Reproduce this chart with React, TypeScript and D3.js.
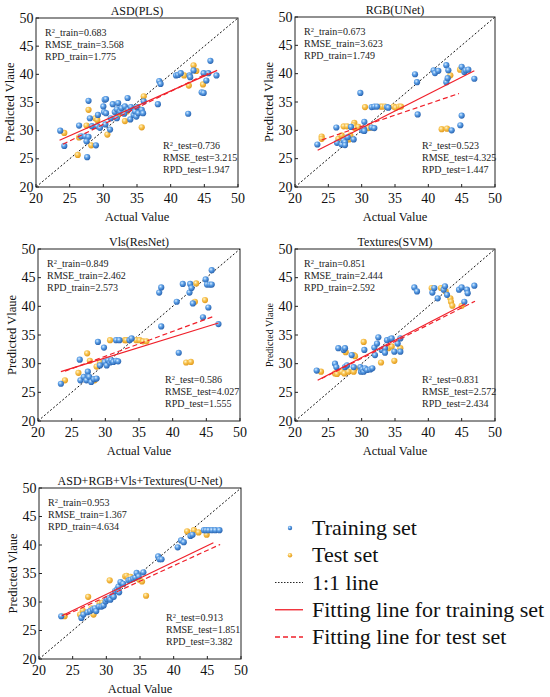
import * as d3 from 'd3';

// ---- data ----
const titles = ['ASD(PLS)', 'RGB(UNet)', 'Vls(ResNet)', 'Textures(SVM)', 'ASD+RGB+Vls+Textures(U-Net)'];
const trainR2 = ['0.683', '0.673', '0.849', '0.851', '0.953'];
const trainRMSE = ['3.568', '3.623', '2.462', '2.444', '1.367'];
const trainRPD = ['1.775', '1.749', '2.573', '2.592', '4.634'];
const testR2 = ['0.736', '0.523', '0.586', '0.831', '0.913'];
const testRMSE = ['3.215', '4.325', '4.027', '2.572', '1.851'];
const testRPD = ['1.947', '1.447', '1.555', '2.434', '3.382'];
const axisTicks = [20, 25, 30, 35, 40, 45, 50];

const asdTrain = [[23.6,30.0],[24.2,27.3],[26.4,30.9],[26.7,29.0],[27.3,29.0],[27.6,25.3],[27.8,35.3],[27.8,28.9],[28.0,32.2],[27.5,28.1],[28.3,30.8],[28.9,27.4],[29.2,32.8],[29.1,30.8],[29.5,30.5],[30.0,34.3],[30.2,35.5],[30.4,35.6],[30.1,33.3],[30.4,33.1],[30.3,31.1],[31.0,30.2],[31.1,32.2],[31.4,34.7],[31.7,33.3],[32.0,33.8],[32.0,32.2],[32.2,34.9],[32.5,33.4],[32.7,34.0],[33.1,33.0],[33.2,34.3],[33.6,35.8],[33.7,33.7],[34.0,32.0],[34.1,34.2],[34.5,32.8],[34.7,33.4],[34.9,32.5],[35.0,34.2],[35.2,33.1],[35.7,33.7],[35.9,33.1],[36.0,35.2],[38.1,34.7],[38.3,38.8],[38.5,38.3],[40.8,39.8],[41.1,39.9],[41.5,40.2],[42.6,33.0],[42.8,39.8],[42.9,39.5],[43.4,40.7],[44.6,36.8],[44.9,36.7],[44.9,40.2],[45.3,38.9],[45.6,40.2],[45.9,42.4],[46.8,39.8]];
const asdTest = [[24.2,29.6],[26.4,28.8],[26.2,25.7],[27.8,33.7],[27.5,30.9],[28.2,27.4],[28.8,32.2],[29.1,31.9],[30.6,29.3],[32.2,32.8],[33.2,31.7],[33.5,33.4],[35.1,34.2],[35.7,30.6],[36.0,36.1],[42.0,39.8],[42.7,38.0],[43.4,41.6],[43.8,40.6],[44.8,38.2]];

const rgbTrain = [[23.35,27.5],[26.2,30.5],[26.3,27.8],[27.0,27.5],[27.3,28.2],[27.5,27.9],[27.9,28.8],[28.8,28.4],[28.4,30.6],[29.8,36.6],[30.1,30.0],[30.3,30.3],[30.4,29.9],[30.4,31.5],[31.5,30.5],[31.9,30.4],[31.5,34.1],[31.9,34.2],[32.3,34.2],[33.8,34.1],[34.0,34.0],[38.0,39.9],[38.3,38.5],[38.4,32.8],[40.8,40.6],[41.0,40.1],[41.5,40.5],[42.7,41.5],[42.7,38.5],[42.9,39.2],[43.0,40.6],[43.5,30.0],[44.8,30.9],[45.0,32.6],[45.0,41.2],[45.4,40.3],[45.6,40.6],[46.0,40.7],[46.9,39.1],[27.5,27.4]];
const rgbTest = [[24.0,28.9],[24.0,28.5],[26.5,28.5],[27.0,29.1],[27.3,30.7],[27.8,30.7],[27.5,28.5],[28.1,28.4],[28.3,29.1],[28.9,31.3],[28.8,30.9],[29.0,30.4],[29.5,30.6],[30.5,34.1],[31.0,30.4],[31.5,30.5],[32.8,34.2],[33.1,34.2],[33.5,34.2],[34.8,34.2],[35.1,34.0],[35.6,34.2],[35.9,34.2],[42.0,30.2],[42.8,30.3],[43.3,39.7],[44.75,40.7]];

const vlsTrain = [[23.4,26.5],[26.2,30.7],[26.3,27.1],[26.8,27.7],[27.2,27.1],[27.4,28.6],[27.6,27.7],[27.9,26.8],[28.3,27.3],[28.7,27.4],[28.9,33.8],[29.2,29.7],[29.8,32.8],[29.9,30.3],[30.2,29.7],[30.4,30.6],[30.7,30.2],[30.9,30.6],[31.2,30.3],[31.6,30.5],[31.9,30.4],[31.6,34.1],[32.1,34.1],[33.6,34.1],[33.9,34.4],[38.3,36.5],[38.0,42.4],[38.3,43.3],[40.6,40.8],[41.5,43.9],[40.9,31.9],[42.5,42.4],[42.6,43.9],[42.8,43.2],[43.0,40.5],[44.5,38.1],[44.9,44.7],[45.1,43.8],[45.3,39.8],[45.5,43.8],[45.8,43.8],[45.8,46.3],[46.8,36.9]];
const vlsTest = [[24.0,27.1],[26.0,28.4],[27.3,31.8],[27.7,30.5],[27.9,27.1],[28.4,27.1],[28.7,29.5],[29.2,30.2],[30.7,34.1],[32.9,34.1],[33.1,34.1],[34.6,34.1],[35.1,34.1],[35.6,33.9],[36.1,33.9],[42.0,30.2],[42.7,30.3],[43.3,40.8],[43.5,44.0],[44.8,41.1]];

const texTrain = [[23.25,28.8],[26.0,30.0],[26.2,29.4],[26.5,32.7],[27.3,32.4],[27.5,32.7],[27.5,29.4],[27.8,29.7],[28.5,31.5],[28.8,29.4],[29.8,29.4],[29.9,28.6],[30.1,29.0],[30.3,28.6],[30.5,29.2],[30.8,28.9],[30.4,32.4],[31.3,29.0],[31.6,29.2],[31.9,32.8],[32.0,31.5],[32.3,33.5],[32.5,34.6],[33.0,32.4],[33.5,32.7],[33.5,31.9],[33.8,34.1],[34.3,34.3],[34.5,34.4],[34.9,32.1],[35.4,33.5],[35.8,32.1],[35.8,34.4],[37.9,43.3],[38.3,42.6],[40.6,42.4],[40.9,43.2],[41.4,41.4],[42.3,42.9],[42.5,43.5],[42.8,42.0],[44.6,42.9],[45.0,43.3],[45.4,40.8],[45.8,42.9],[45.9,42.3],[46.9,43.6]];
const texTest = [[23.9,28.6],[26.0,28.3],[26.3,28.2],[27.0,28.6],[27.4,28.3],[27.6,32.0],[28.0,28.6],[28.8,31.5],[29.0,31.3],[29.0,29.2],[28.8,28.6],[30.3,33.8],[32.9,30.2],[34.0,32.7],[34.5,33.0],[34.9,30.5],[35.8,32.7],[40.5,43.2],[41.9,43.2],[42.6,42.6],[43.3,41.4],[43.4,40.8],[43.6,40.1],[45.0,40.1]];

const allTrain = [[23.3,27.5],[26.3,27.2],[26.6,27.8],[27.2,28.2],[27.6,28.4],[28.0,28.7],[28.3,28.9],[28.5,28.4],[28.9,29.2],[29.3,29.2],[29.6,29.4],[29.9,30.1],[30.1,30.5],[30.4,30.7],[30.6,30.4],[30.9,31.1],[31.1,30.9],[31.3,31.9],[31.6,32.2],[31.8,32.7],[31.9,31.7],[32.1,33.5],[32.5,33.2],[33.3,33.8],[33.6,33.9],[34.0,34.1],[34.3,34.3],[34.5,35.1],[34.8,34.5],[35.5,35.2],[37.7,38.0],[37.9,37.5],[38.2,37.5],[40.6,39.6],[41.1,40.8],[41.5,40.5],[42.5,41.6],[42.8,41.8],[44.5,42.6],[44.8,42.6],[45.2,42.6],[45.7,42.6],[46.2,42.6],[46.8,42.6]];
const allTest = [[23.8,27.5],[26.1,27.8],[26.5,28.5],[27.3,30.9],[27.8,28.9],[28.1,27.8],[28.5,28.8],[29.0,29.8],[29.4,29.9],[30.5,33.8],[32.8,34.5],[33.0,34.6],[33.3,34.2],[33.6,34.4],[34.9,33.9],[35.3,33.6],[35.9,31.1],[42.0,42.4],[43.0,42.6],[43.7,42.2],[44.9,41.8]];

const trainSets = [asdTrain, rgbTrain, vlsTrain, texTrain, allTrain];
const testSets = [asdTest, rgbTest, vlsTest, texTest, allTest];

// fitted lines, [x1, y1, x2, y2] in data units
const trainFits = [[23.5,28.3,46.9,40.7],[23.4,26.5,46.9,40.5],[23.4,28.6,46.8,37.1],[23.4,27.1,45.5,40.4],[23.4,27.6,45.9,40.4]];
const testFits = [[24.0,27.6,45.5,40.2],[24.0,28.3,44.6,36.5],[24.0,28.7,46.2,38.3],[24.0,27.4,47.0,40.9],[24.0,27.7,46.9,40.1]];

const legendLabels = ['Training set', 'Test set', '1:1 line', 'Fitting line for training set', 'Fitting line for test set'];

// ---- layout ----
const W = 550;
const H = 697;
const panels = [
  { left: 36, top: 18, w: 202, h: 169, ylabSize: 12.5 },
  { left: 295, top: 17, w: 200, h: 170, ylabSize: 12.5 },
  { left: 38, top: 249, w: 202, h: 172, ylabSize: 12.5 },
  { left: 295, top: 249, w: 200, h: 172, ylabSize: 10 },
  { left: 39, top: 488, w: 202, h: 171, ylabSize: 12.5 },
];
const FONT = '"Liberation Serif", "Times New Roman", serif';
const RED = '#f0202a';

function Panel({ i }) {
  const p = panels[i];
  const x = d3.scaleLinear().domain([20, 50]).range([0, p.w]);
  const y = d3.scaleLinear().domain([20, 50]).range([p.h, 0]);
  const tr = trainFits[i];
  const te = testFits[i];
  const statLine = (label, val, sup) => (
    <>
      {sup ? <>R<tspan dy={-3.5} fontSize={6.5}>2</tspan><tspan dy={3.5}>{label}={val}</tspan></> : `${label}=${val}`}
    </>
  );
  return (
    <g transform={`translate(${p.left},${p.top})`} fontFamily={FONT}>
      <rect width={p.w} height={p.h} fill="#fff" />
      {/* 1:1 line */}
      <line x1={x(20)} y1={y(20)} x2={x(50)} y2={y(50)} stroke="#111" strokeWidth={1} strokeDasharray="2,2" />
      {testSets[i].map((d, k) => (
        <circle key={'te' + k} cx={x(d[0])} cy={y(d[1])} r={3.1} fill="url(#gOrange)" />
      ))}
      {trainSets[i].map((d, k) => (
        <circle key={'tr' + k} cx={x(d[0])} cy={y(d[1])} r={3.1} fill="url(#gBlue)" />
      ))}
      <line x1={x(tr[0])} y1={y(tr[1])} x2={x(tr[2])} y2={y(tr[3])} stroke={RED} strokeWidth={1.2} />
      <line x1={x(te[0])} y1={y(te[1])} x2={x(te[2])} y2={y(te[3])} stroke={RED} strokeWidth={1.2} strokeDasharray="5,3" />
      <rect width={p.w} height={p.h} fill="none" stroke="#222" strokeWidth={1} />
      {axisTicks.map((t) => (
        <g key={'t' + t}>
          <line x1={x(t)} x2={x(t)} y1={p.h} y2={p.h - 3} stroke="#222" />
          <line x1={0} x2={3} y1={y(t)} y2={y(t)} stroke="#222" />
          <text x={x(t)} y={p.h + 16} fontSize={14} textAnchor="middle" fill="#111">{t}</text>
          <text x={-2.5} y={y(t) + 4.5} fontSize={14} textAnchor="end" fill="#111">{t}</text>
        </g>
      ))}
      <text x={p.w / 2} y={-3} fontSize={12} textAnchor="middle" fill="#111">{titles[i]}</text>
      <text x={p.w / 2} y={p.h + 34} fontSize={12.5} textAnchor="middle" fill="#111">Actual Value</text>
      <text transform={`translate(${-22},${p.h / 2}) rotate(-90)`} fontSize={p.ylabSize} textAnchor="middle" fill="#111">Predicted Vlaue</text>
      <g fontSize={10} fill="#222">
        <text x={9} y={18}>{statLine('_train', trainR2[i], true)}</text>
        <text x={9} y={30}>{statLine('RMSE_train', trainRMSE[i], false)}</text>
        <text x={9} y={41.5}>{statLine('RPD_train', trainRPD[i], false)}</text>
        <text x={127} y={p.h - 38}>{statLine('_test', testR2[i], true)}</text>
        <text x={127} y={p.h - 26}>{statLine('RMSE_test', testRMSE[i], false)}</text>
        <text x={127} y={p.h - 14.5}>{statLine('RPD_test', testRPD[i], false)}</text>
      </g>
    </g>
  );
}

function Legend() {
  const rowY = d3.scaleLinear().domain([0, 4]).range([528, 637]);
  return (
    <g fontFamily={FONT} fontSize={22} fill="#111">
      {legendLabels.map((lab, k) => {
        const cy = rowY(k);
        let mark;
        if (k === 0) mark = <circle cx={290} cy={cy} r={2.2} fill="url(#gBlue)" />;
        else if (k === 1) mark = <circle cx={290} cy={cy} r={2.2} fill="url(#gOrange)" />;
        else if (k === 2) mark = <line x1={275} x2={303} y1={cy} y2={cy} stroke="#111" strokeWidth={0.9} strokeDasharray="1.5,1.5" />;
        else if (k === 3) mark = <line x1={275} x2={303} y1={cy} y2={cy} stroke={RED} strokeWidth={1.3} />;
        else mark = <line x1={275} x2={303} y1={cy} y2={cy} stroke={RED} strokeWidth={1.3} strokeDasharray="5,3" />;
        return (
          <g key={lab}>
            {mark}
            <text x={312} y={cy + 7}>{lab}</text>
          </g>
        );
      })}
    </g>
  );
}

export default function App() {
  return (
    <svg width={W} height={H} style={{ position: 'absolute', left: 0, top: 0, background: '#fff' }}>
      <defs>
        <radialGradient id="gBlue" cx="38%" cy="35%" r="65%">
          <stop offset="0%" stopColor="#d6ecff" />
          <stop offset="45%" stopColor="#5a9ee6" />
          <stop offset="100%" stopColor="#2a64b0" />
        </radialGradient>
        <radialGradient id="gOrange" cx="38%" cy="35%" r="65%">
          <stop offset="0%" stopColor="#fff4d0" />
          <stop offset="45%" stopColor="#f8c450" />
          <stop offset="100%" stopColor="#e29a1e" />
        </radialGradient>
      </defs>
      <rect width={W} height={H} fill="#fff" />
      {panels.map((_, i) => <Panel key={i} i={i} />)}
      <Legend />
    </svg>
  );
}
